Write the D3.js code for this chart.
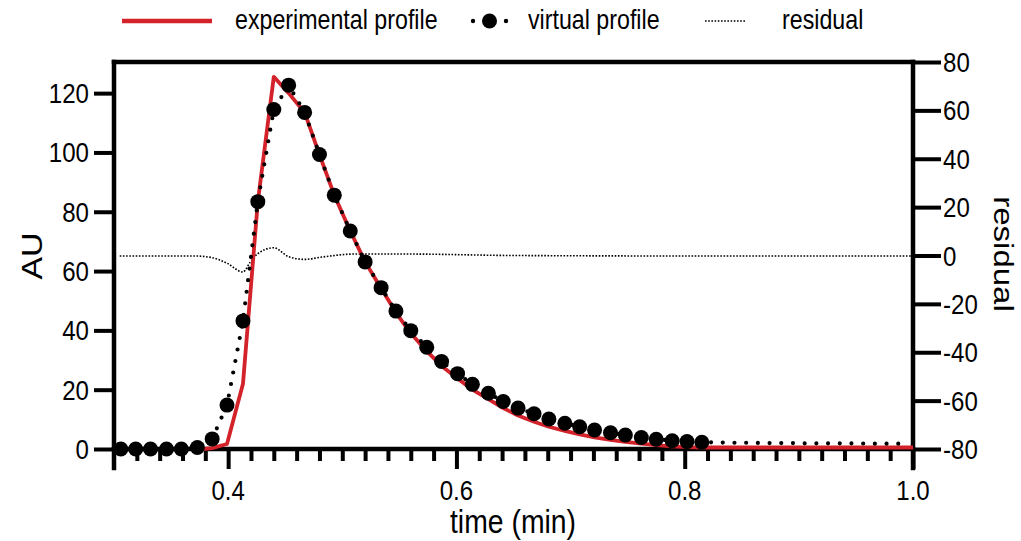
<!DOCTYPE html>
<html>
<head>
<meta charset="utf-8">
<script src="https://cdn.jsdelivr.net/npm/d3@7"></script>
<style>
  html, body { margin: 0; padding: 0; background: #fff; }
  svg { display: block; }
  text { font-family: "Liberation Sans", Arial, sans-serif; fill: #000; }
</style>
</head>
<body>
<script>
// virtual profile (dotted line + markers up to markerLimit)
const timeVirtual = [0.306, 0.319, 0.332, 0.346, 0.359, 0.373, 0.386, 0.399, 0.413, 0.426,
	0.440, 0.453, 0.467, 0.480, 0.493, 0.507, 0.520, 0.534, 0.547, 0.560,
	0.574, 0.587, 0.601, 0.614, 0.628, 0.641, 0.654, 0.668, 0.681, 0.695,
	0.708, 0.721, 0.735, 0.748, 0.762, 0.775, 0.789, 0.802, 0.815, 0.829,
	0.842, 0.856, 0.869, 0.883, 0.896, 0.909, 0.923, 0.936, 0.950, 0.963,
	0.976, 0.990];
const virtualProfile = [0, 0, 0, 0, 0, 0.5, 3.4, 14.8, 43.2, 83.4,
	114.5, 122.7, 113.5, 99.3, 85.6, 73.5, 63.1, 54.4, 46.5, 39.9,
	34.3, 29.5, 25.4, 21.8, 18.8, 16.0, 13.8, 11.9, 10.1, 8.7,
	7.5, 6.4, 5.5, 4.7, 3.9, 3.3, 2.8, 2.5, 2.3, 2.2,
	2.1, 2.1, 2.0, 2.0, 2.0, 1.9, 1.9, 1.9, 1.9, 1.8,
	1.8, 1.8];
const markerLimit = 0.815;

// experimental profile (red)
const timeExperimental = [0.378, 0.386, 0.399, 0.413, 0.426, 0.440, 0.453, 0.467, 0.480, 0.493,
	0.507, 0.520, 0.534, 0.547, 0.560, 0.574, 0.587, 0.601, 0.614, 0.628,
	0.641, 0.654, 0.668, 0.681, 0.695, 0.708, 0.721, 0.735, 0.748, 0.762,
	0.775, 0.789, 0.802, 0.815, 1.000];
const experimentalProfile = [0, 0.3, 1.7, 22, 83.4, 125.5, 120, 113.5, 99.3, 85.6,
	73.5, 63.1, 54.2, 46, 39, 33, 28, 23.8, 20, 16.8,
	13.8, 11.3, 9.2, 7.5, 6.1, 4.9, 3.9, 3.1, 2.4, 1.8,
	1.3, 0.9, 0.6, 0.5, 0.5];

// residual (right axis)
const timeResidual = [0.305, 0.370, 0.385, 0.399, 0.413, 0.419, 0.426, 0.440, 0.453, 0.467,
	0.483, 0.510, 0.557, 0.650, 0.800, 1.000];
const residual = [-0.2, -0.2, -0.8, -3.2, -6.8, -3.0, 0.8, 3.2, -0.5, -1.6,
	-0.6, 0.6, 0.6, 0.0, -0.2, -0.2];

const xMajorTicks = [0.4, 0.6, 0.8, 1.0];
const xMinorTicks = [0.32, 0.34, 0.36, 0.38, 0.42, 0.44, 0.46, 0.48, 0.50, 0.52, 0.54, 0.56, 0.58,
	0.62, 0.64, 0.66, 0.68, 0.70, 0.72, 0.74, 0.76, 0.78, 0.82, 0.84, 0.86, 0.88, 0.90,
	0.92, 0.94, 0.96, 0.98];
const yLeftTicks = [0, 20, 40, 60, 80, 100, 120];
const yRightTicks = [-80, -60, -40, -20, 0, 20, 40, 60, 80];
const legendLabels = ['experimental profile', 'virtual profile', 'residual'];

const width = 1021, height = 541;
const red = '#d3222a';
const stretch = 0.86; // glyphs in the reference are narrower than tall

const x = d3.scaleLinear().domain([0.3, 1.0]).range([114, 913]);
const yL = d3.scaleLinear().domain([0, 130.5]).range([449, 62]);
const yR = d3.scaleLinear().domain([-80, 80]).range([449, 62]);

const svg = d3.select('body')
	.append('svg')
	.attr('width', width)
	.attr('height', height);

svg.append('rect')
	.attr('width', width)
	.attr('height', height)
	.attr('fill', '#fff');

function addText (parent, str, tx, ty, size, anchor, angle) {
	const tr = angle
		? `translate(${tx},${ty}) rotate(${angle}) scale(1,${stretch})`
		: `translate(${tx},${ty}) scale(${stretch},1)`;
	return parent.append('text')
		.attr('transform', tr)
		.attr('text-anchor', anchor)
		.attr('font-size', size)
		.text(str);
}

function tickStyle (g) {
	g.select('.domain').remove();
	g.selectAll('.tick line')
		.attr('stroke', '#000')
		.attr('stroke-width', 4);
}

// Axes (ticks only, labels placed by hand)
svg.append('g')
	.attr('transform', `translate(${x(0.3)},0)`)
	.call(d3.axisLeft(yL).tickValues(yLeftTicks).tickSize(20).tickFormat(''))
	.call(tickStyle);

svg.append('g')
	.attr('transform', `translate(${x(1.0)},0)`)
	.call(d3.axisRight(yR).tickValues(yRightTicks).tickSize(28).tickFormat(''))
	.call(tickStyle);

svg.append('g')
	.attr('transform', `translate(0,${yL(0)})`)
	.call(d3.axisBottom(x).tickValues(xMinorTicks).tickSize(12).tickFormat(''))
	.call(tickStyle);

svg.append('g')
	.attr('transform', `translate(0,${yL(0)})`)
	.call(d3.axisBottom(x).tickValues(xMajorTicks).tickSize(20).tickFormat(''))
	.call(tickStyle);

// Frame
const frame = svg.append('g')
	.attr('stroke', '#000')
	.attr('stroke-width', 4.5)
	.attr('stroke-linecap', 'square');
frame.append('line').attr('x1', x(0.3)).attr('x2', x(0.3)).attr('y1', yL.range()[1]).attr('y2', yL(0) + 19);
frame.append('line').attr('x1', x(1.0)).attr('x2', x(1.0)).attr('y1', yL.range()[1]).attr('y2', yL(0) + 19);
frame.append('line').attr('x1', x(0.3)).attr('x2', x(1.0)).attr('y1', yL.range()[1]).attr('y2', yL.range()[1]);
frame.append('line').attr('x1', x(0.3)).attr('x2', x(1.0)).attr('y1', yL(0)).attr('y2', yL(0));

// Tick labels
const labels = svg.append('g');
yLeftTicks.forEach(v => addText(labels, v, x(0.3) - 25, yL(v) + 10, 28, 'end'));
yRightTicks.forEach(v => addText(labels, v, x(1.0) + 30, yR(v) + 10, 28, 'start'));
xMajorTicks.forEach(v => addText(labels, d3.format('.1f')(v), x(v), 500, 28, 'middle'));

// Axis titles
addText(svg, 'time (min)', 513, 533, 33, 'middle');
addText(svg, 'AU', 42, 256, 34, 'middle', -90);
addText(svg, 'residual', 994, 254, 33, 'middle', 90);

// Residual
const residualPoints = timeResidual.map((t, i) => [t, residual[i]]);
svg.append('path')
	.datum(residualPoints)
	.attr('fill', 'none')
	.attr('stroke', '#000')
	.attr('stroke-width', 1.6)
	.attr('stroke-dasharray', '1.6 1.6')
	.attr('d', d3.line().curve(d3.curveMonotoneX).x(d => x(d[0])).y(d => yR(d[1])));

// Experimental profile
const expPoints = timeExperimental.map((t, i) => [t, experimentalProfile[i]]);
svg.append('path')
	.datum(expPoints)
	.attr('fill', 'none')
	.attr('stroke', red)
	.attr('stroke-width', 3.8)
	.attr('stroke-linejoin', 'round')
	.attr('d', d3.line().x(d => x(d[0])).y(d => yL(d[1])));

// Virtual profile
const virtPoints = timeVirtual.map((t, i) => [t, virtualProfile[i]]);
svg.append('path')
	.datum(virtPoints)
	.attr('fill', 'none')
	.attr('stroke', '#000')
	.attr('stroke-width', 4.2)
	.attr('stroke-linecap', 'round')
	.attr('stroke-dasharray', '0 11.7')
	.attr('d', d3.line().x(d => x(d[0])).y(d => yL(d[1])));

svg.append('g')
	.selectAll('circle')
	.data(virtPoints.filter(d => d[0] <= markerLimit))
	.join('circle')
		.attr('cx', d => x(d[0]))
		.attr('cy', d => yL(d[1]))
		.attr('r', 7.5)
		.attr('fill', '#000');

// Legend
const legend = svg.append('g');
legend.append('line')
	.attr('x1', 122).attr('x2', 212).attr('y1', 21).attr('y2', 21)
	.attr('stroke', red).attr('stroke-width', 4.5);
addText(legend, legendLabels[0], 235, 29, 27, 'start');

legend.selectAll('.ldot')
	.data([473, 506])
	.join('circle')
		.attr('class', 'ldot')
		.attr('cx', d => d)
		.attr('cy', 21)
		.attr('r', 2.2)
		.attr('fill', '#000');
legend.append('circle').attr('cx', 489.5).attr('cy', 21).attr('r', 7.5).attr('fill', '#000');
addText(legend, legendLabels[1], 528, 29, 27, 'start');

legend.append('line')
	.attr('x1', 705).attr('x2', 746).attr('y1', 21).attr('y2', 21)
	.attr('stroke', '#000').attr('stroke-width', 1.6)
	.attr('stroke-dasharray', '1.6 1.6');
addText(legend, legendLabels[2], 782, 29, 27, 'start');
</script>
</body>
</html>
